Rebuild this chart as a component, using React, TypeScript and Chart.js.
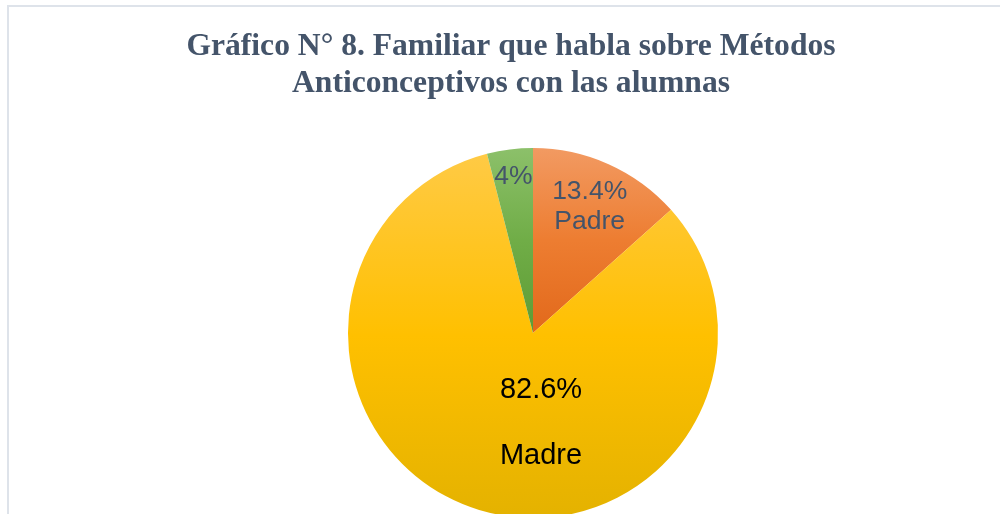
import React, { useEffect, useRef } from "react";
import { Chart, registerables } from "chart.js";

Chart.register(...registerables);

// ---- data ----
const TITLE_LINES = [
  "Gráfico N° 8. Familiar que habla sobre Métodos",
  "Anticonceptivos con las alumnas",
];
const CATEGORIES = ["Padre", "Madre", "Otro familiar"];
const VALUES = [13.4, 82.6, 4.0];
const SHOW_CATEGORY = [true, true, false];

// ---- styles ----
const BASE_COLORS = ["#ED7D31", "#FFC000", "#70AD47"];
const TOP_COLORS = ["#F29A62", "#FFCA45", "#8CC06A"];
const BOTTOM_COLORS = ["#E2691B", "#E4B200", "#5E9C35"];

const TITLE_STYLE = {
  font: 'bold 31.6px "Liberation Serif", "Times New Roman", serif',
  color: "#44546A",
  firstBaseline: 55,
  lineHeight: 37,
};

const LABEL_STYLE = {
  family: '"Liberation Sans", Arial, sans-serif',
  sizes: [26.5, 29, 26.5],
  radius: [0.75, 0.49, 0.85],
  angleShiftDeg: [0, -22, 0],
  colors: ["#44546A", "#000000", "#44546A"],
  lineGap: [30, 66, 30],
};

function fmtPct(v: number) {
  return `${Number(v.toFixed(1))}%`;
}

function sliceGradient(ctx: any) {
  const i: number = ctx.dataIndex ?? 0;
  const chart = ctx.chart;
  const area = chart.chartArea;
  if (!area) return BASE_COLORS[i];
  const cx = (area.left + area.right) / 2;
  const cy = (area.top + area.bottom) / 2;
  const r = Math.min(area.right - area.left, area.bottom - area.top) / 2;
  const total = VALUES.reduce((a, b) => a + b, 0);
  let start = 0;
  for (let k = 0; k < i; k++) start += VALUES[k];
  const a0 = (start / total) * Math.PI * 2;
  const a1 = ((start + VALUES[i]) / total) * Math.PI * 2;
  let ymin = cy;
  let ymax = cy;
  const take = (a: number) => {
    const y = cy - r * Math.cos(a);
    ymin = Math.min(ymin, y);
    ymax = Math.max(ymax, y);
  };
  take(a0);
  take(a1);
  if (a0 <= 1e-9 || a1 >= Math.PI * 2 - 1e-9) take(0);
  if (a0 < Math.PI && a1 > Math.PI) take(Math.PI);
  if (ymax - ymin < 1) return BASE_COLORS[i];
  const g = chart.ctx.createLinearGradient(0, ymin, 0, ymax);
  g.addColorStop(0, TOP_COLORS[i]);
  g.addColorStop(0.5, BASE_COLORS[i]);
  g.addColorStop(1, BOTTOM_COLORS[i]);
  return g;
}

const titlePlugin = {
  id: "customTitle",
  afterDraw(chart: any) {
    const c = chart.ctx;
    c.save();
    c.font = TITLE_STYLE.font;
    c.fillStyle = TITLE_STYLE.color;
    c.textAlign = "center";
    c.textBaseline = "alphabetic";
    TITLE_LINES.forEach((line, i) => {
      c.fillText(line, chart.width / 2, TITLE_STYLE.firstBaseline + i * TITLE_STYLE.lineHeight);
    });
    c.restore();
  },
};

const labelPlugin = {
  id: "sliceLabels",
  afterDatasetsDraw(chart: any) {
    const meta = chart.getDatasetMeta(0);
    const c = chart.ctx;
    c.save();
    c.textAlign = "center";
    c.textBaseline = "middle";
    meta.data.forEach((arc: any, i: number) => {
      const { x, y, startAngle, endAngle, outerRadius } = arc.getProps(
        ["x", "y", "startAngle", "endAngle", "outerRadius"],
        true
      );
      const mid = (startAngle + endAngle) / 2 + (LABEL_STYLE.angleShiftDeg[i] * Math.PI) / 180;
      const rr = outerRadius * LABEL_STYLE.radius[i];
      const px = x + Math.cos(mid) * rr;
      const py = y + Math.sin(mid) * rr;
      const lines = [fmtPct(VALUES[i])];
      if (SHOW_CATEGORY[i]) lines.push(CATEGORIES[i]);
      const gap = LABEL_STYLE.lineGap[i];
      const y0 = py - ((lines.length - 1) * gap) / 2;
      c.font = `${LABEL_STYLE.sizes[i]}px ${LABEL_STYLE.family}`;
      c.fillStyle = LABEL_STYLE.colors[i];
      lines.forEach((t, k) => c.fillText(t, px, y0 + k * gap));
    });
    c.restore();
  },
};

export default function App() {
  const ref = useRef<HTMLCanvasElement>(null);
  useEffect(() => {
    const chart = new Chart(ref.current as HTMLCanvasElement, {
      type: "pie",
      data: {
        labels: CATEGORIES,
        datasets: [
          {
            data: VALUES,
            backgroundColor: sliceGradient as any,
            borderWidth: 0,
            hoverOffset: 0,
          },
        ],
      },
      options: {
        responsive: false,
        animation: false,
        devicePixelRatio: 1,
        events: [],
        layout: { padding: { left: 44, right: 0, top: 148, bottom: 42 } },
        plugins: {
          legend: { display: false },
          tooltip: { enabled: false },
          title: { display: false },
        },
      },
      plugins: [titlePlugin, labelPlugin],
    });
    return () => chart.destroy();
  }, []);

  return (
    <div
      style={{
        position: "fixed",
        left: 0,
        top: 0,
        width: 1000,
        height: 514,
        overflow: "hidden",
        background: "#ffffff",
      }}
    >
      <div
        style={{
          position: "absolute",
          left: 7,
          top: 5,
          width: 1100,
          height: 700,
          border: "2px solid #DEE3EA",
          boxSizing: "border-box",
        }}
      />
      <canvas
        ref={ref}
        width={1022}
        height={560}
        style={{ position: "absolute", left: 0, top: 0, width: 1022, height: 560 }}
      />
    </div>
  );
}
